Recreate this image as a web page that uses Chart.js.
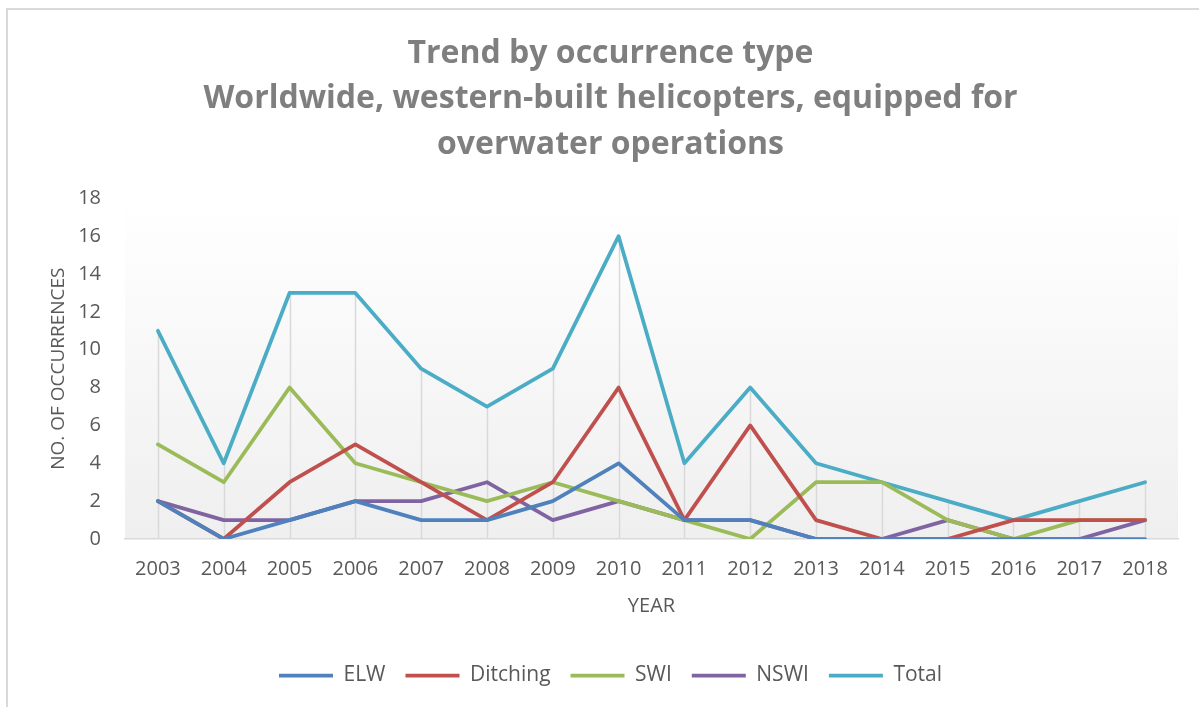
<!DOCTYPE html>
<html>
<head>
<meta charset="utf-8">
<script src="https://cdn.jsdelivr.net/npm/chart.js@4.4.1/dist/chart.umd.min.js"></script>
<style>
    html, body { margin: 0; padding: 0; background: #ffffff; }
    #wrap { position: relative; width: 1199px; height: 707px; }
    #frame { position: absolute; left: 6px; top: 8px; right: -4px; bottom: -4px; border-top: 2px solid #d9d9d9; border-left: 2px solid #d9d9d9; }
    canvas { position: absolute; left: 0; top: 0; }
</style>
</head>
<body>
<div id="wrap">
    <div id="frame"></div>
    <canvas id="chart" width="1199" height="707"></canvas>
</div>
<script>
const years = ["2003", "2004", "2005", "2006", "2007", "2008", "2009", "2010",
    "2011", "2012", "2013", "2014", "2015", "2016", "2017", "2018"];
const elw      = [2, 0, 1, 2, 1, 1, 2, 4, 1, 1, 0, 0, 0, 0, 0, 0];
const ditching = [2, 0, 3, 5, 3, 1, 3, 8, 1, 6, 1, 0, 0, 1, 1, 1];
const swi      = [5, 3, 8, 4, 3, 2, 3, 2, 1, 0, 3, 3, 1, 0, 1, 1];
const nswi     = [2, 1, 1, 2, 2, 3, 1, 2, 1, 1, 0, 0, 1, 0, 0, 1];
const total    = [11, 4, 13, 13, 9, 7, 9, 16, 4, 8, 4, 3, 2, 1, 2, 3];

const titleLines = [
    "Trend by occurrence type",
    "Worldwide, western-built helicopters, equipped for",
    "overwater operations",
];

const FONT = "'Open Sans', 'Noto Sans', sans-serif";

function series(label, data, color) {
    return {
        label: label,
        data: data,
        borderColor: color,
        backgroundColor: color,
        borderWidth: 3.75,
        borderCapStyle: "round",
        borderJoinStyle: "round",
        pointRadius: 0,
        pointHoverRadius: 0,
        tension: 0,
        fill: false,
    };
}

// plot area shading, white at top to light grey at the axis
const plotBackground = {
    id: "plotBackground",
    beforeDraw(chart) {
        const { ctx, chartArea: a } = chart;
        const g = ctx.createLinearGradient(0, a.top, 0, a.bottom);
        g.addColorStop(0, "#ffffff");
        g.addColorStop(1, "#efefef");
        ctx.save();
        ctx.fillStyle = g;
        ctx.fillRect(a.left, a.top, a.right - a.left, a.bottom - a.top);
        ctx.restore();
    },
};

// Excel style drop lines from the highest point of each year to the axis
const dropLines = {
    id: "dropLines",
    beforeDatasetsDraw(chart) {
        const { ctx } = chart;
        const y = chart.scales.y;
        const x = chart.scales.x;
        ctx.save();
        ctx.strokeStyle = "#d9d9d9";
        ctx.lineWidth = 1.5;
        years.forEach((yr, i) => {
            let top = Infinity;
            chart.data.datasets.forEach((ds) => {
                top = Math.min(top, y.getPixelForValue(ds.data[i]));
            });
            const px = Math.round(x.getPixelForValue(i)) + 0.5;
            ctx.beginPath();
            ctx.moveTo(px, top);
            ctx.lineTo(px, y.getPixelForValue(0));
            ctx.stroke();
        });
        ctx.restore();
    },
};

new Chart(document.getElementById("chart"), {
    type: "line",
    data: {
        labels: years,
        datasets: [
            series("ELW", elw, "#4f81bd"),
            series("Ditching", ditching, "#c0504d"),
            series("SWI", swi, "#9bbb59"),
            series("NSWI", nswi, "#8064a2"),
            series("Total", total, "#4bacc6"),
        ],
    },
    options: {
        responsive: false,
        animation: false,
        layout: {
            padding: { left: 43, right: 21, top: 22, bottom: 11 },
        },
        scales: {
            x: {
                offset: true,
                grid: { display: false, offset: false },
                border: { display: true, color: "#d9d9d9", width: 1.5 },
                ticks: {
                    color: "#595959",
                    font: { family: FONT, size: 20 },
                    padding: 10,
                    maxRotation: 0,
                    autoSkip: false,
                },
                title: {
                    display: true,
                    text: "YEAR",
                    color: "#595959",
                    font: { family: FONT, size: 20 },
                },
                afterFit(scale) {
                    scale.height = 83;
                },
            },
            y: {
                min: 0,
                max: 18,
                grid: { display: false },
                border: { display: false },
                ticks: {
                    stepSize: 2,
                    color: "#595959",
                    font: { family: FONT, size: 20 },
                    padding: 16,
                },
                title: {
                    display: true,
                    text: "NO. OF OCCURRENCES",
                    color: "#595959",
                    font: { family: FONT, size: 19 },
                },
                afterFit(scale) {
                    scale.width = 82;
                },
            },
        },
        plugins: {
            title: {
                display: true,
                text: titleLines,
                color: "#7f7f7f",
                font: { family: FONT, size: 32, weight: "bold", lineHeight: 1.42 },
                padding: { top: 9, bottom: 31 },
            },
            legend: {
                position: "bottom",
                title: {
                    display: true,
                    text: " ",
                    font: { size: 10 },
                    padding: { top: 11, bottom: 0 },
                },
                labels: {
                    usePointStyle: true,
                    pointStyle: "line",
                    pointStyleWidth: 54,
                    color: "#595959",
                    font: { family: FONT, size: 21 },
                    padding: 20,
                },
            },
            tooltip: { enabled: false },
        },
    },
    plugins: [plotBackground, dropLines],
});
</script>
</body>
</html>
